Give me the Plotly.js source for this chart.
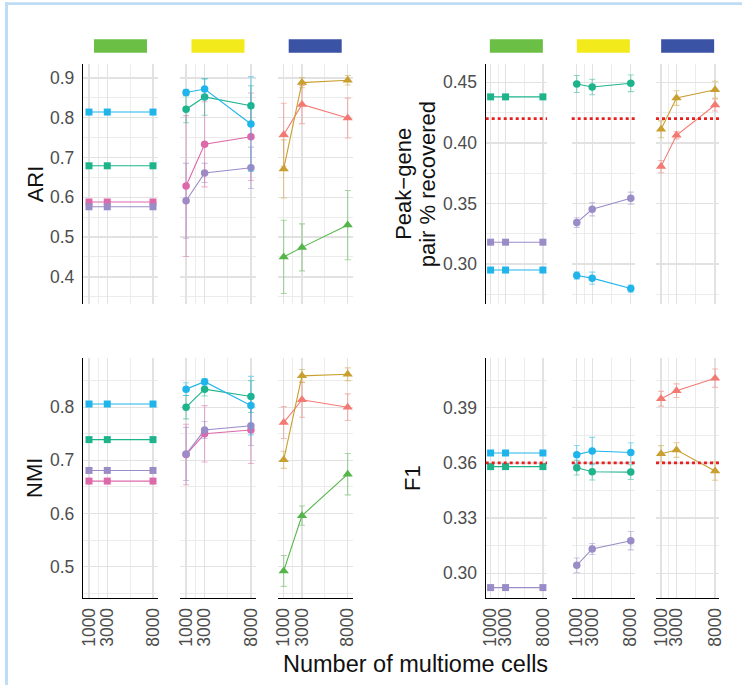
<!DOCTYPE html>
<html>
<head>
<meta charset="utf-8">
<script src="https://cdn.plot.ly/plotly-3.0.1.min.js"></script>
<style>html,body{margin:0;padding:0;background:#fff;}#chart{width:742px;height:685px;}</style>
</head>
<body>
<div id="chart"></div>
<script>
// ---------------- data ----------------
const cells = [1000, 3000, 8000];
const cellTicks = ["1000", "3000", "8000"];
const facetNames = ["green", "yellow", "blue"];

// ARI
const ariSqCyan = [0.814, 0.814, 0.814];
const ariSqTeal = [0.679, 0.679, 0.679];
const ariSqPink = [0.588, 0.588, 0.588];
const ariSqPurple = [0.576, 0.576, 0.576];
const ariCiCyan = [0.863, 0.872, 0.784];
const ariCiCyanErr = [0.008, 0.025, 0.119];
const ariCiTeal = [0.821, 0.852, 0.830];
const ariCiTealErr = [0.034, 0.046, 0.050];
const ariCiPink = [0.628, 0.733, 0.752];
const ariCiPinkErr = [0.177, 0.107, 0.110];
const ariCiPurple = [0.591, 0.661, 0.674];
const ariCiPurpleErr = [0.094, 0.024, 0.052];
const ariTrGold = [0.671, 0.888, 0.894];
const ariTrGoldErr = [0.073, 0.013, 0.012];
const ariTrSalmon = [0.757, 0.833, 0.799];
const ariTrSalmonErr = [0.079, 0.048, 0.050];
const ariTrGreen = [0.450, 0.474, 0.530];
const ariTrGreenErr = [0.092, 0.059, 0.087];

// Peak-gene pair % recovered
const pgSqTeal = [0.438, 0.438, 0.438];
const pgSqPurple = [0.318, 0.318, 0.318];
const pgSqCyan = [0.295, 0.295, 0.295];
const pgCiTeal = [0.4486, 0.4461, 0.4492];
const pgCiTealErr = [0.007, 0.0064, 0.0069];
const pgCiPurple = [0.3342, 0.3452, 0.3543];
const pgCiPurpleErr = [0.004, 0.0055, 0.005];
const pgCiCyan = [0.2905, 0.2883, 0.2797];
const pgCiCyanErr = [0.003, 0.005, 0.003];
const pgTrGold = [0.4112, 0.437, 0.4439];
const pgTrGoldErr = [0.007, 0.006, 0.007];
const pgTrSalmon = [0.3804, 0.4063, 0.4313];
const pgTrSalmonErr = [0.005, 0.003, 0.005];
const pgThreshold = 0.42;

// NMI
const nmiSqCyan = [0.806, 0.806, 0.806];
const nmiSqTeal = [0.739, 0.739, 0.739];
const nmiSqPurple = [0.681, 0.681, 0.681];
const nmiSqPink = [0.661, 0.661, 0.661];
const nmiCiCyan = [0.834, 0.848, 0.803];
const nmiCiCyanErr = [0.012, 0.006, 0.055];
const nmiCiTeal = [0.800, 0.834, 0.820];
const nmiCiTealErr = [0.022, 0.013, 0.030];
const nmiCiPurple = [0.712, 0.757, 0.765];
const nmiCiPurpleErr = [0.050, 0.016, 0.037];
const nmiCiPink = [0.711, 0.750, 0.757];
const nmiCiPinkErr = [0.057, 0.053, 0.063];
const nmiTrGold = [0.701, 0.859, 0.862];
const nmiTrGoldErr = [0.016, 0.012, 0.012];
const nmiTrSalmon = [0.771, 0.814, 0.800];
const nmiTrSalmonErr = [0.030, 0.033, 0.025];
const nmiTrGreen = [0.492, 0.596, 0.674];
const nmiTrGreenErr = [0.029, 0.018, 0.039];

// F1
const f1SqCyan = [0.3654, 0.3654, 0.3654];
const f1SqTeal = [0.358, 0.358, 0.358];
const f1SqPurple = [0.2922, 0.2922, 0.2922];
const f1CiCyan = [0.3645, 0.3665, 0.3657];
const f1CiCyanErr = [0.005, 0.0074, 0.0053];
const f1CiTeal = [0.3574, 0.3552, 0.3550];
const f1CiTealErr = [0.004, 0.0045, 0.004];
const f1CiPurple = [0.3043, 0.3132, 0.3177];
const f1CiPurpleErr = [0.004, 0.003, 0.005];
const f1TrSalmon = [0.3949, 0.3993, 0.4061];
const f1TrSalmonErr = [0.004, 0.0037, 0.005];
const f1TrGold = [0.365, 0.367, 0.3556];
const f1TrGoldErr = [0.0044, 0.004, 0.005];
const f1Threshold = 0.36;

// y-axis ticks
const ariTicks = [0.4, 0.5, 0.6, 0.7, 0.8, 0.9];
const ariMinor = [0.35, 0.45, 0.55, 0.65, 0.75, 0.85];
const pgTicks = [0.30, 0.35, 0.40, 0.45];
const pgMinor = [0.275, 0.325, 0.375, 0.425];
const nmiTicks = [0.5, 0.6, 0.7, 0.8];
const nmiMinor = [0.45, 0.55, 0.65, 0.75, 0.85];
const f1Ticks = [0.30, 0.33, 0.36, 0.39];
const f1Minor = [0.285, 0.315, 0.345, 0.375, 0.405];
const xMinor = [2000, 5500];

// ---------------- styles ----------------
const C = {
  cyan: '#1fb5ea', teal: '#1db48c', pink: '#dd69aa', purple: '#9a8cc7',
  gold: '#c99f2f', salmon: '#f37a72', green: '#55b54a'
};
const stripColors = ['#6cbf45', '#f2ea1a', '#3a53a4'];
const SYM = ['square', 'circle', 'triangle-up'];
const MSIZE = [7, 7.5, 9];

const W = 742, H = 685;
const fx = p => p / W;
const fy = p => 1 - p / H;

const colX = {
  left: [[83, 158], [180, 256], [277.7, 352.7]],
  right: [[485.7, 547], [571.7, 635], [656, 719.3]]
};
const rowY = { top: [64.3, 304.3], bottom: [358.3, 597.7] };

function hexA(hex, a) {
  const n = parseInt(hex.slice(1), 16);
  return `rgba(${(n >> 16) & 255},${(n >> 8) & 255},${n & 255},${a})`;
}

const metrics = [
  { col: 'left', row: 'top', range: [0.331, 0.934], ticks: ariTicks, minor: ariMinor, fmt: '.1f',
    facets: [
      [[ariSqCyan, null, 'cyan'], [ariSqTeal, null, 'teal'], [ariSqPink, null, 'pink'], [ariSqPurple, null, 'purple']],
      [[ariCiPurple, ariCiPurpleErr, 'purple'], [ariCiPink, ariCiPinkErr, 'pink'], [ariCiTeal, ariCiTealErr, 'teal'], [ariCiCyan, ariCiCyanErr, 'cyan']],
      [[ariTrGreen, ariTrGreenErr, 'green'], [ariTrSalmon, ariTrSalmonErr, 'salmon'], [ariTrGold, ariTrGoldErr, 'gold']]
    ], threshold: null },
  { col: 'right', row: 'top', range: [0.2667, 0.4649], ticks: pgTicks, minor: pgMinor, fmt: '.2f',
    facets: [
      [[pgSqTeal, null, 'teal'], [pgSqPurple, null, 'purple'], [pgSqCyan, null, 'cyan']],
      [[pgCiTeal, pgCiTealErr, 'teal'], [pgCiPurple, pgCiPurpleErr, 'purple'], [pgCiCyan, pgCiCyanErr, 'cyan']],
      [[pgTrSalmon, pgTrSalmonErr, 'salmon'], [pgTrGold, pgTrGoldErr, 'gold']]
    ], threshold: pgThreshold },
  { col: 'left', row: 'bottom', range: [0.4416, 0.892], ticks: nmiTicks, minor: nmiMinor, fmt: '.1f',
    facets: [
      [[nmiSqCyan, null, 'cyan'], [nmiSqTeal, null, 'teal'], [nmiSqPurple, null, 'purple'], [nmiSqPink, null, 'pink']],
      [[nmiCiPink, nmiCiPinkErr, 'pink'], [nmiCiPurple, nmiCiPurpleErr, 'purple'], [nmiCiTeal, nmiCiTealErr, 'teal'], [nmiCiCyan, nmiCiCyanErr, 'cyan']],
      [[nmiTrGreen, nmiTrGreenErr, 'green'], [nmiTrSalmon, nmiTrSalmonErr, 'salmon'], [nmiTrGold, nmiTrGoldErr, 'gold']]
    ], threshold: null },
  { col: 'right', row: 'bottom', range: [0.2867, 0.4169], ticks: f1Ticks, minor: f1Minor, fmt: '.2f',
    facets: [
      [[f1SqCyan, null, 'cyan'], [f1SqTeal, null, 'teal'], [f1SqPurple, null, 'purple']],
      [[f1CiPurple, f1CiPurpleErr, 'purple'], [f1CiTeal, f1CiTealErr, 'teal'], [f1CiCyan, f1CiCyanErr, 'cyan']],
      [[f1TrSalmon, f1TrSalmonErr, 'salmon'], [f1TrGold, f1TrGoldErr, 'gold']]
    ], threshold: f1Threshold }
];

const FONT = 'Liberation Sans, Arial, Helvetica, sans-serif';
const GRID = '#e2e2e2', GRIDMINOR = '#ececec';
const xRange = [344, 8547];

const data = [];
const layout = {
  width: W, height: H,
  margin: { l: 0, r: 0, t: 0, b: 0 },
  paper_bgcolor: '#ffffff', plot_bgcolor: 'rgba(0,0,0,0)',
  showlegend: false,
  font: { family: FONT, color: '#4d4d4d' },
  shapes: [], annotations: []
};

metrics.forEach((m, mi) => {
  m.facets.forEach((series, fi) => {
    const idx = mi * 3 + fi + 1;
    const xa = 'x' + idx, ya = 'y' + idx;
    const px = colX[m.col][fi], py = rowY[m.row];
    const bottom = m.row === 'bottom';
    layout['xaxis' + idx] = {
      domain: [fx(px[0]), fx(px[1])], anchor: ya, range: xRange,
      tickmode: 'array', tickvals: cells, ticktext: cellTicks,
      showticklabels: bottom, tickangle: -90, ticks: '', ticklabelstandoff: 2,
      tickfont: { size: 17.5, color: '#4d4d4d', family: FONT },
      showgrid: true, gridcolor: GRID, gridwidth: 1.4, zeroline: false,
      minor: { tickmode: 'array', tickvals: xMinor, showgrid: true, gridcolor: GRIDMINOR, gridwidth: 1, ticks: '' },
      showline: bottom, linecolor: '#000000', linewidth: 1.2, fixedrange: true
    };
    layout['yaxis' + idx] = {
      domain: [fy(py[1]), fy(py[0])], anchor: xa, range: m.range,
      tickmode: 'array', tickvals: m.ticks, tickformat: m.fmt,
      showticklabels: fi === 0, ticks: '', ticklabelstandoff: 4,
      tickfont: { size: 17.5, color: '#4d4d4d', family: FONT },
      showgrid: true, gridcolor: GRID, gridwidth: 1.4, zeroline: false,
      minor: { tickmode: 'array', tickvals: m.minor, showgrid: true, gridcolor: GRIDMINOR, gridwidth: 1, ticks: '' },
      showline: fi === 0, linecolor: '#000000', linewidth: 1.2, fixedrange: true
    };
    // strip label bar (only over the top row of panels)
    if (m.row === 'top') {
      const cx = (px[0] + px[1]) / 2;
      layout.shapes.push({
        type: 'rect', xref: 'paper', yref: 'paper', layer: 'above',
        x0: fx(cx - 26.5), x1: fx(cx + 26.5), y0: fy(52.7), y1: fy(39.3),
        fillcolor: stripColors[fi], line: { width: 0 }
      });
    }
    // threshold line
    if (m.threshold !== null) {
      layout.shapes.push({
        type: 'line', xref: xa + ' domain', yref: ya, layer: 'above',
        x0: 0, x1: 1, y0: m.threshold, y1: m.threshold,
        line: { color: '#e8201f', width: 2.6, dash: 'dot' }
      });
    }
    series.forEach(s => {
      const col = C[s[2]];
      const tr = {
        type: 'scatter', mode: 'lines+markers', x: cells, y: s[0],
        xaxis: xa, yaxis: ya, hoverinfo: 'x+y',
        line: { color: col, width: 1.1 },
        marker: { symbol: SYM[fi], size: MSIZE[fi], color: col, line: { width: 0 } },
        cliponaxis: false
      };
      if (s[1]) {
        tr.error_y = { type: 'data', array: s[1], symmetric: true, visible: true,
          color: hexA(col, 0.5), thickness: 1.1, width: 3 };
      }
      data.push(tr);
    });
  });
});

// frame lines (light blue)
layout.shapes.push({ type: 'rect', xref: 'paper', yref: 'paper', layer: 'above',
  x0: fx(5), x1: fx(8), y0: 0, y1: fy(2.3), fillcolor: '#bddcf5', line: { width: 0 } });
layout.shapes.push({ type: 'rect', xref: 'paper', yref: 'paper', layer: 'above',
  x0: fx(5), x1: 1, y0: fy(5), y1: fy(2.3), fillcolor: '#bddcf5', line: { width: 0 } });

// axis titles
const titleFont = { family: FONT, size: 22, color: '#111111' };
function ann(text, x, y, angle, size) {
  layout.annotations.push({ text: text, xref: 'paper', yref: 'paper', x: fx(x), y: fy(y),
    xanchor: 'center', yanchor: 'middle', showarrow: false, textangle: angle,
    font: Object.assign({}, titleFont, size ? { size: size } : {}) });
}
ann('ARI', 35, 184.3, -90);
ann('NMI', 35, 478, -90);
ann('Peak\u2212gene', 403.5, 184.3, -90);
ann('pair % recovered', 427, 184.3, -90);
ann('F1', 413, 478, -90);
ann('Number of multiome cells', 415.5, 663.5, 0, 23.5);

Plotly.newPlot('chart', data, layout, { staticPlot: true, displayModeBar: false });
</script>
</body>
</html>
